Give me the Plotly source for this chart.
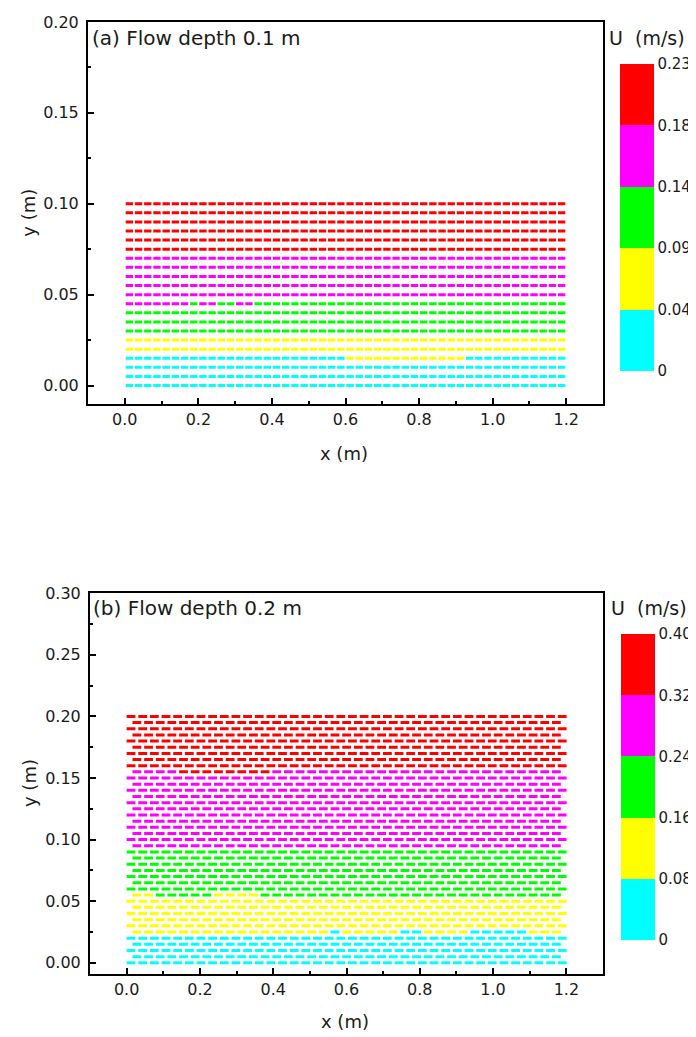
import numpy as np
import plotly.graph_objects as go

# ---------------- data ----------------
# Panel (a): flow depth 0.1 m  (velocity vectors, coloured by magnitude U)
xa_grid = np.round(np.arange(0.0125, 1.19, 0.025), 4)          # measurement columns (m)
ya_rows = np.round(np.arange(0.0, 0.1001, 0.005), 4)           # measurement rows (m)
ua_rows = [0.030, 0.034, 0.038, 0.043, 0.060, 0.080, 0.100, 0.115, 0.130, 0.150,
           0.155, 0.160, 0.168, 0.175, 0.182, 0.190, 0.198, 0.205, 0.212, 0.218, 0.225]
# local deviations: (row y, x from, x to, U)
ua_patches = [(0.015, 0.60, 0.92, 0.055),
              (0.045, 0.18, 0.21, 0.125), (0.045, 0.25, 0.29, 0.125),
              (0.045, 0.35, 1.20, 0.125),
              (0.070, 0.00, 0.03, 0.170)]
ua_levels = [0, 0.046, 0.092, 0.138, 0.184, 0.23]
ua_labels = ["0", "0.04", "0.09", "0.14", "0.18", "0.23"]

# Panel (b): flow depth 0.2 m  (staggered columns on alternate rows)
xb_grid_even = np.round(np.arange(0.012, 1.19, 0.0318), 4)
xb_grid_odd = np.round(np.arange(0.028, 1.18, 0.0318), 4)
yb_rows = np.round(np.arange(0.0, 0.2001, 0.005), 4)
ub_rows = [0.050, 0.055, 0.060, 0.065, 0.072,
           0.090, 0.100, 0.110, 0.120, 0.130, 0.140,
           0.155,
           0.170, 0.180, 0.190, 0.200, 0.210, 0.220, 0.230,
           0.245,
           0.250, 0.255, 0.260, 0.265, 0.270, 0.280, 0.285, 0.290, 0.300, 0.305, 0.310,
           0.315,
           0.330, 0.340, 0.350, 0.360, 0.370, 0.380, 0.385, 0.390, 0.395]
ub_patches = [(0.025, 0.54, 0.58, 0.075), (0.025, 0.75, 0.81, 0.075),
              (0.025, 0.94, 1.08, 0.075),
              (0.055, 0.07, 0.23, 0.170), (0.055, 0.37, 1.20, 0.170),
              (0.155, 0.15, 0.385, 0.330)]
ub_levels = [0, 0.08, 0.16, 0.24, 0.32, 0.40]
ub_labels = ["0", "0.08", "0.16", "0.24", "0.32", "0.40"]

band_colors = ["#00FFFF", "#FFFF00", "#00FF00", "#FF00FF", "#FF0000"]

# ---------------- styling ----------------
W, H = 696, 1037
OX, OY, SY = 8, 15.0, 0.9926   # page offset / scale of the plot div in the screenshot
FONT = "DejaVu Sans"
TXT = "#1a1a1a"
dash_a = 0.020
dash_b = 0.024


def px(x):
    return (x - OX) / W


def py(y):
    return 1 - ((y - OY) / SY) / H


def build_traces(grids, yr, ur, patches, levels, dash, xa, ya):
    segs = [([], []) for _ in band_colors]
    for i, (y, u0) in enumerate(zip(yr, ur)):
        xg = grids[i % len(grids)]
        for x in xg:
            u = u0
            for (py_, x0, x1, up) in patches:
                if abs(py_ - y) < 1e-6 and x0 <= x <= x1:
                    u = up
            b = 0
            for k in range(1, len(levels) - 1):
                if u >= levels[k]:
                    b = k
            sx, sy = segs[b]
            sx += [x - dash / 2, x + dash / 2, None]
            sy += [y, y, None]
    traces = []
    for (sx, sy), c in zip(segs, band_colors):
        traces.append(go.Scatter(x=sx, y=sy, mode="lines", xaxis=xa, yaxis=ya,
                                 line=dict(color=c, width=3), hoverinfo="skip",
                                 showlegend=False))
    return traces


def colorscale():
    cs = []
    n = len(band_colors)
    for i, c in enumerate(band_colors):
        cs += [[i / n, c], [(i + 1) / n, c]]
    return cs


def cbar_trace(levels, labels, xa, ya, top_px, bot_px, left_px):
    return go.Scatter(
        x=[None], y=[None], mode="markers", xaxis=xa, yaxis=ya, showlegend=False,
        marker=dict(color=[levels[0]], cmin=levels[0], cmax=levels[-1],
                    colorscale=colorscale(), showscale=True,
                    colorbar=dict(x=px(left_px), xanchor="left", xpad=0,
                                  y=py(top_px), yanchor="top", ypad=0,
                                  len=(bot_px - top_px) / SY, lenmode="pixels",
                                  thickness=34, thicknessmode="pixels",
                                  outlinewidth=0, ticks="",
                                  tickvals=levels, ticktext=labels,
                                  tickfont=dict(family=FONT, size=15, color=TXT))))


fig = go.Figure()
for t in build_traces([xa_grid], ya_rows, ua_rows, ua_patches, ua_levels, dash_a, "x", "y"):
    fig.add_trace(t)
for t in build_traces([xb_grid_even, xb_grid_odd], yb_rows, ub_rows, ub_patches, ub_levels,
                      dash_b, "x2", "y2"):
    fig.add_trace(t)
fig.add_trace(cbar_trace(ua_levels, ua_labels, "x", "y", 62, 367, 620))
fig.add_trace(cbar_trace(ub_levels, ub_labels, "x2", "y2", 633, 937, 621))

axis_common = dict(showgrid=False, zeroline=False, showline=True, linecolor="black",
                   linewidth=2, mirror=True, ticks="inside", ticklen=6, tickwidth=1.5,
                   tickcolor="black",
                   tickfont=dict(family=FONT, size=16, color=TXT))

xt = [0, 0.2, 0.4, 0.6, 0.8, 1.0, 1.2]
xtl = ["0.0", "0.2", "0.4", "0.6", "0.8", "1.0", "1.2"]
xminor = dict(tickvals=[0.1, 0.3, 0.5, 0.7, 0.9, 1.1], ticks="inside", ticklen=3,
              tickcolor="black", tickwidth=1.5)

fig.update_layout(
    width=W, height=H, margin=dict(l=0, r=0, t=0, b=0),
    paper_bgcolor="white", plot_bgcolor="white", showlegend=False,
    xaxis=dict(domain=[px(88), px(603)], range=[-0.1, 1.3], anchor="y",
               tickvals=xt, ticktext=xtl, minor=xminor, **axis_common),
    yaxis=dict(domain=[py(402), py(20)], range=[-0.0099, 0.2], anchor="x",
               tickvals=[0, 0.05, 0.1, 0.15, 0.2], ticktext=["0.00", "0.05", "0.10", "0.15", "0.20"],
               minor=dict(tickvals=[0.025, 0.075, 0.125, 0.175], ticks="inside", ticklen=3,
                          tickcolor="black", tickwidth=1.5),
               ticklabelstandoff=4, **axis_common),
    xaxis2=dict(domain=[px(90), px(603)], range=[-0.1, 1.3], anchor="y2",
                tickvals=xt, ticktext=xtl, minor=xminor, **axis_common),
    yaxis2=dict(domain=[py(973), py(592)], range=[-0.0089, 0.3], anchor="x2",
                tickvals=[0, 0.05, 0.1, 0.15, 0.2, 0.25, 0.3],
                ticktext=["0.00", "0.05", "0.10", "0.15", "0.20", "0.25", "0.30"],
                minor=dict(tickvals=[0.025, 0.075, 0.125, 0.175, 0.225, 0.275], ticks="inside",
                           ticklen=3, tickcolor="black", tickwidth=1.5),
                ticklabelstandoff=4, **axis_common),
)

ann = [
    ("(a) Flow depth 0.1 m", 90, 36, 20, "left", 0),
    ("(b) Flow depth 0.2 m", 91, 607, 20, "left", 0),
    ("U  (m/s)", 607, 36, 19, "left", 0),
    ("U  (m/s)", 609, 607, 19, "left", 0),
    ("x (m)", 344, 452, 18, "center", 0),
    ("x (m)", 345, 1021, 18, "center", 0),
    ("y (m)", 29, 211, 18, "center", -90),
    ("y (m)", 29, 782, 18, "center", -90),
]
for text, x, y, size, xa, ang in ann:
    fig.add_annotation(text=text, x=px(x), y=py(y), xref="paper", yref="paper",
                       xanchor=xa, yanchor="middle", showarrow=False, textangle=ang,
                       font=dict(family=FONT, size=size, color=TXT))

fig.write_html("out.html")
